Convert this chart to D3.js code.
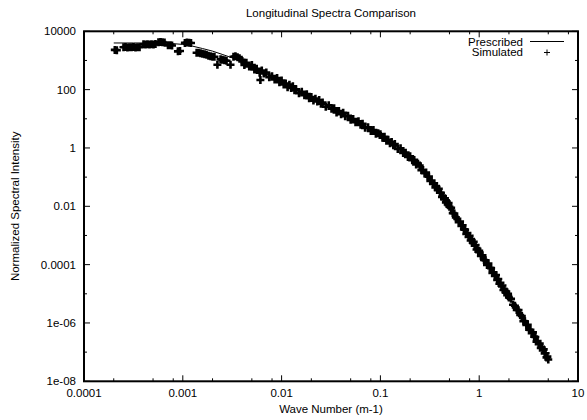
<!DOCTYPE html>
<html>
<head>
<meta charset="utf-8">
<script src="https://cdn.jsdelivr.net/npm/d3@7"></script>
<style>
    body { margin: 0; background: #fff; }
    svg text { font-family: "Liberation Sans", Arial, sans-serif; fill: #000; }
</style>
</head>
<body>
<div id="chart"></div>
<script>
// Chart texts and ticks
const chartTitle = 'Longitudinal Spectra Comparison';
const xLabel = 'Wave Number (m-1)';
const yLabel = 'Normalized Spectral Intensity';
const seriesNames = ['Prescribed', 'Simulated'];

const xTickValues = [1e-4, 1e-3, 1e-2, 1e-1, 1, 10];
const xTickLabels = ['0.0001', '0.001', '0.01', '0.1', '1', '10'];
const xMinorMantissas = [2, 5, 8];
const yTickValues = [1e-8, 1e-6, 1e-4, 1e-2, 1, 100, 10000];
const yTickLabels = ['1e-08', '1e-06', '0.0001', '0.01', '1', '100', '10000'];
const yMinorValues = [1e-7, 1e-5, 1e-3, 0.1, 10, 1000];

// Prescribed spectrum (line)
const prescribedK = [0.0002, 0.000316, 0.0005, 0.00071, 0.001, 0.00126, 0.00158, 0.002, 0.0025, 0.00316,
    0.004, 0.005, 0.0063, 0.0079, 0.01, 0.0126, 0.0158, 0.02, 0.025, 0.0316,
    0.04, 0.05, 0.063, 0.079, 0.1, 0.126, 0.158, 0.2, 0.25, 0.316,
    0.4, 0.5, 0.63, 0.79, 1, 1.26, 1.58, 2, 2.5, 3.16, 4, 5];
const prescribedS = [3980, 3980, 3980, 3890, 3550, 3090, 2570, 2090, 1620, 1230,
    870, 600, 410, 275, 186, 120, 78, 52, 35, 24,
    15.8, 10.5, 6.8, 4.27, 2.69, 1.58, 0.89, 0.48, 0.224, 0.089,
    0.0316, 0.01, 0.0029, 0.00089, 2.75e-4, 8.9e-5, 2.6e-5, 7.9e-6, 2.3e-6, 7.1e-7, 2.1e-7, 6.0e-8];

// Simulated spectrum (points) as [wave number, intensity]
const simulated = [
    [0.000205, 2300], [0.000215, 2250],
    [0.000251, 2830], [0.000263, 2900], [0.000275, 2780], [0.000289, 2850], [0.000303, 2830],
    [0.000317, 2900], [0.000332, 2800], [0.000348, 2860], [0.000365, 2830],
    [0.000400, 3580], [0.000419, 3500], [0.000439, 3620], [0.000460, 3560], [0.000482, 3600],
    [0.000505, 3540], [0.000529, 3650],
    [0.000567, 4200], [0.000595, 4300], [0.000623, 4250], [0.000653, 4150],
    [0.000708, 3300], [0.000751, 3350], [0.000778, 3250],
    [0.000893, 2050], [0.000937, 2100],
    [0.00105, 4000], [0.00110, 4100], [0.00116, 4050], [0.00121, 3950],
    [0.00138, 1830], [0.00144, 1830], [0.00151, 1760], [0.00158, 1690], [0.00166, 1630], [0.00174, 1560],
    [0.00182, 1450], [0.00191, 1390], [0.00200, 1340], [0.00209, 1340],
    [0.00224, 710],
    [0.00241, 1100], [0.00252, 1050], [0.00264, 1010], [0.00277, 975],
    [0.00304, 710],
    [0.00326, 1340], [0.00341, 1390], [0.00358, 1290], [0.00375, 1190], [0.00393, 1050],
    [0.0040, 930], [0.0042, 700], [0.0044, 830], [0.0047, 620], [0.0050, 700], [0.0053, 490],
    [0.0056, 520], [0.0060, 380], [0.0061, 215], [0.0063, 450], [0.0066, 360], [0.0070, 385],
    [0.0075, 265], [0.0080, 290], [0.0085, 224], [0.0090, 250], [0.0095, 180],
    [0.0100, 205], [0.0105, 151], [0.0110, 163], [0.0115, 121], [0.0120, 148], [0.0125, 114],
    [0.0130, 130], [0.0135, 96], [0.0140, 103], [0.0150, 75], [0.0160, 84], [0.0170, 64],
    [0.0180, 70], [0.0190, 51], [0.0200, 56], [0.0210, 42], [0.0220, 49], [0.0230, 39],
    [0.0240, 44], [0.0250, 33], [0.0260, 36], [0.0280, 26], [0.0300, 29], [0.0320, 22],
    [0.0340, 23], [0.0360, 16.5], [0.0380, 18.5], [0.0400, 14.3], [0.0420, 16.1], [0.0440, 12.3],
    [0.0470, 12.7], [0.0500, 9.2], [0.0530, 9.9], [0.0560, 7.6], [0.0600, 8.2], [0.0630, 6.2],
    [0.0660, 6.8], [0.0700, 4.9], [0.0750, 5.1], [0.0800, 3.84], [0.0850, 4.09], [0.0900, 3.10],
    [0.0950, 3.19],
    [0.100, 2.95], [0.105, 2.25], [0.110, 2.43], [0.115, 1.78], [0.120, 1.90], [0.125, 1.44],
    [0.130, 1.60], [0.135, 1.24], [0.140, 1.36], [0.150, 0.93], [0.160, 0.97], [0.170, 0.67],
    [0.180, 0.69], [0.190, 0.49], [0.200, 0.52], [0.210, 0.38], [0.220, 0.39], [0.230, 0.27],
    [0.240, 0.29],
    [0.25, 0.249], [0.26, 0.174], [0.27, 0.176], [0.28, 0.136], [0.29, 0.145], [0.30, 0.105],
    [0.31, 0.104], [0.32, 0.0736], [0.33, 0.0748], [0.34, 0.0589], [0.35, 0.0619], [0.36, 0.0445],
    [0.37, 0.0461], [0.38, 0.0363], [0.39, 0.0398], [0.40, 0.0295], [0.41, 0.0292], [0.42, 0.0211],
    [0.43, 0.0221], [0.44, 0.0176], [0.45, 0.0188], [0.46, 0.0136], [0.47, 0.0145], [0.48, 0.0116],
    [0.49, 0.0129], [0.50, 0.00966],
    [0.52, 0.0088], [0.54, 0.00585], [0.56, 0.00564], [0.58, 0.00417], [0.60, 0.00371], [0.62, 0.00284],
    [0.64, 0.00301], [0.66, 0.00213], [0.68, 0.00225], [0.70, 0.00162], [0.72, 0.00158], [0.74, 0.00112],
    [0.76, 0.00122], [0.78, 0.00089], [0.80, 0.00097], [0.82, 0.00067], [0.84, 0.00070], [0.86, 0.00056],
    [0.88, 0.00061], [0.90, 0.00045], [0.92, 0.00047], [0.94, 0.00033], [0.96, 0.00035], [0.98, 0.00028],
    [1.00, 0.00030],
    [1.04, 2.0e-4], [1.08, 2.1e-4], [1.12, 1.45e-4], [1.16, 1.40e-4], [1.20, 9.8e-5], [1.24, 1.08e-4],
    [1.28, 7.8e-5], [1.32, 7.6e-5], [1.36, 5.2e-5], [1.40, 5.4e-5], [1.44, 4.1e-5], [1.48, 4.4e-5],
    [1.52, 3.0e-5], [1.56, 3.2e-5], [1.60, 2.2e-5], [1.64, 2.4e-5], [1.68, 1.9e-5], [1.72, 1.92e-5],
    [1.76, 1.35e-5], [1.80, 1.4e-5], [1.84, 1.13e-5], [1.88, 1.19e-5], [1.92, 8.9e-6], [1.96, 1.0e-5],
    [2.00, 7.5e-6],
    [2.1, 6.7e-6], [2.2, 4.2e-6], [2.3, 3.9e-6], [2.4, 2.8e-6], [2.5, 2.75e-6], [2.6, 1.87e-6],
    [2.7, 1.73e-6], [2.8, 1.16e-6], [2.9, 1.14e-6], [3.0, 8.5e-7], [3.1, 8.6e-7], [3.2, 5.9e-7],
    [3.3, 5.8e-7], [3.4, 4.5e-7], [3.5, 4.75e-7], [3.6, 3.4e-7], [3.7, 3.3e-7], [3.8, 2.3e-7],
    [3.9, 2.4e-7], [4.0, 1.86e-7], [4.1, 1.95e-7], [4.2, 1.4e-7], [4.3, 1.45e-7], [4.4, 1.14e-7],
    [4.5, 1.24e-7], [4.6, 9.1e-8], [4.7, 9.2e-8], [4.8, 6.6e-8], [4.9, 7.0e-8], [5.0, 5.6e-8]
];

// Dimensions
const totalWidth = 587, totalHeight = 420;
const margin = { top: 31.3, right: 9, bottom: 38.7, left: 84 };
const width = totalWidth - margin.left - margin.right;
const height = totalHeight - margin.top - margin.bottom;
const fontSize = '11.5px';
const majorLen = 6, minorLen = 3;

const svg = d3.select('#chart')
    .append('svg')
    .attr('width', totalWidth)
    .attr('height', totalHeight);

const g = svg.append('g')
    .attr('transform', `translate(${margin.left},${margin.top})`);

// Scales
const x = d3.scaleLog().domain([1e-4, 10]).range([0, width]);
const y = d3.scaleLog().domain([1e-8, 1e4]).range([height, 0]);

const plusPath = (cx, cy, arm) =>
    `M${cx - arm},${cy}H${cx + arm}M${cx},${cy - arm}V${cy + arm}`;

// Clip to the frame
g.append('clipPath').attr('id', 'plot-clip')
    .append('rect').attr('width', width).attr('height', height);

const plot = g.append('g').attr('clip-path', 'url(#plot-clip)');

// Prescribed line
const line = d3.line()
    .x(d => x(d))
    .y((d, i) => y(prescribedS[i]));

plot.append('path')
    .attr('d', line(prescribedK))
    .attr('fill', 'none')
    .attr('stroke', '#000')
    .attr('stroke-width', 1);

// Simulated points, drawn dense and heavy like the original plot
plot.append('path')
    .attr('d', simulated.map(d => plusPath(x(d[0]), y(d[1]), 4)).join(''))
    .attr('fill', 'none')
    .attr('stroke', '#000')
    .attr('stroke-width', 2.6);

// Ticks, mirrored on all four sides, pointing inward
const xMinor = [];
xTickValues.slice(0, -1).forEach(v => xMinorMantissas.forEach(m => xMinor.push(v * m)));

const ticks = g.append('g').attr('stroke', '#000').attr('stroke-width', 1);

function xTicks(values, len) {
    values.forEach(v => {
        ticks.append('line').attr('x1', x(v)).attr('x2', x(v)).attr('y1', height).attr('y2', height - len);
        ticks.append('line').attr('x1', x(v)).attr('x2', x(v)).attr('y1', 0).attr('y2', len);
    });
}
function yTicks(values, len) {
    values.forEach(v => {
        ticks.append('line').attr('y1', y(v)).attr('y2', y(v)).attr('x1', 0).attr('x2', len);
        ticks.append('line').attr('y1', y(v)).attr('y2', y(v)).attr('x1', width).attr('x2', width - len);
    });
}
xTicks(xTickValues, majorLen);
xTicks(xMinor, minorLen);
yTicks(yTickValues, majorLen);
yTicks(yMinorValues, minorLen);

// Frame
g.append('rect')
    .attr('width', width)
    .attr('height', height)
    .attr('fill', 'none')
    .attr('stroke', '#000')
    .attr('stroke-width', 2);

// Tick labels
g.selectAll('.x-label')
    .data(xTickValues)
    .enter()
    .append('text')
    .attr('x', d => x(d))
    .attr('y', height + 16)
    .attr('text-anchor', 'middle')
    .style('font-size', fontSize)
    .text((d, i) => xTickLabels[i]);

g.selectAll('.y-label')
    .data(yTickValues)
    .enter()
    .append('text')
    .attr('x', -8)
    .attr('y', d => y(d))
    .attr('dy', '0.35em')
    .attr('text-anchor', 'end')
    .style('font-size', fontSize)
    .text((d, i) => yTickLabels[i]);

// Title and axis titles
svg.append('text')
    .attr('x', margin.left + width / 2)
    .attr('y', 17)
    .attr('text-anchor', 'middle')
    .style('font-size', fontSize)
    .text(chartTitle);

svg.append('text')
    .attr('x', margin.left + width / 2)
    .attr('y', 413)
    .attr('text-anchor', 'middle')
    .style('font-size', fontSize)
    .text(xLabel);

svg.append('text')
    .attr('transform', `translate(19,${margin.top + height / 2}) rotate(-90)`)
    .attr('text-anchor', 'middle')
    .style('font-size', fontSize)
    .text(yLabel);

// Legend
const legend = svg.append('g').attr('transform', 'translate(523,0)');

legend.selectAll('text')
    .data(seriesNames)
    .enter()
    .append('text')
    .attr('x', 0)
    .attr('y', (d, i) => 45.5 + i * 10.5)
    .attr('text-anchor', 'end')
    .style('font-size', fontSize)
    .text(d => d);

legend.append('line')
    .attr('x1', 7).attr('x2', 41)
    .attr('y1', 41.5).attr('y2', 41.5)
    .attr('stroke', '#000')
    .attr('stroke-width', 1);

legend.append('path')
    .attr('d', plusPath(24, 52.5, 3))
    .attr('fill', 'none')
    .attr('stroke', '#000')
    .attr('stroke-width', 1);
</script>
</body>
</html>
